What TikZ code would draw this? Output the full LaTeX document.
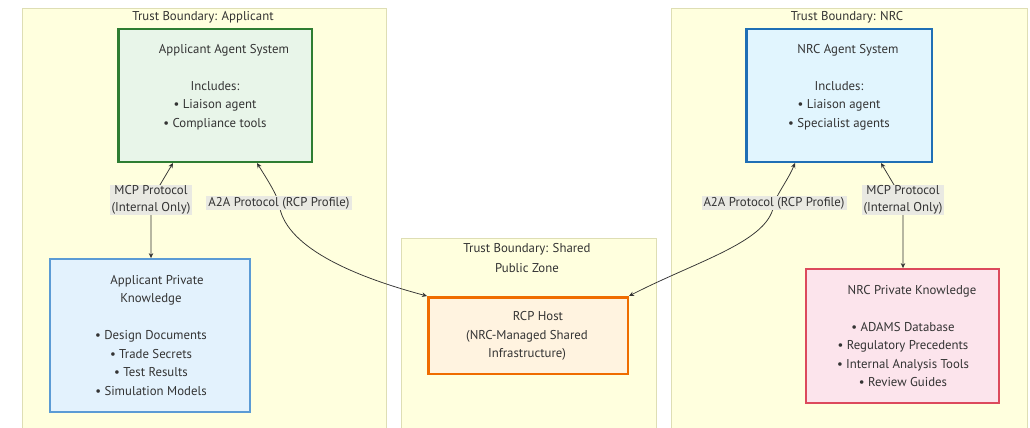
\documentclass[tikz,border=0pt]{standalone}
\usepackage{fontspec}
\setmainfont{PT Sans}
\usetikzlibrary{arrows.meta,calc,backgrounds}
\definecolor{clfill}{HTML}{FFFFDE}
\definecolor{clborder}{HTML}{DEDEB4}
\definecolor{txtcol}{HTML}{333333}
\definecolor{linecol}{HTML}{333333}
\definecolor{lblfill}{HTML}{E9E9E2}
\definecolor{agfill}{HTML}{E8F5E9}
\definecolor{agdraw}{HTML}{2E7D32}
\definecolor{apfill}{HTML}{E3F2FD}
\definecolor{apdraw}{HTML}{5B9BD5}
\definecolor{rcpfill}{HTML}{FFF3E0}
\definecolor{rcpdraw}{HTML}{EF6C00}
\definecolor{nafill}{HTML}{E1F5FE}
\definecolor{nadraw}{HTML}{1F6FB5}
\definecolor{npfill}{HTML}{FCE4EC}
\definecolor{npdraw}{HTML}{DC4A5C}
\begin{document}
\begin{tikzpicture}[x=1pt,y=-1pt,
  cluster/.style={draw=clborder, fill=clfill, line width=1pt, rectangle, inner sep=0pt, anchor=north west},
  boxnode/.style={rectangle, inner sep=0pt},
  txt/.style={font=\fontsize{12.8}{18.5}\selectfont, text=txtcol, align=center, inner sep=0pt},
  lbl/.style={fill=lblfill, font=\fontsize{12.8}{17}\selectfont, text=txtcol, align=center, inner xsep=2pt, inner ysep=1pt},
  conn/.style={draw=linecol, line width=0.75pt, {Stealth[length=5pt,width=4.5pt]}-{Stealth[length=5pt,width=4.5pt]}}
]
\useasboundingbox (0,0) rectangle (1030,428);

\begin{pgfonlayer}{background}
\fill[white] (0,0) rectangle (1030,428);
\begin{scope}
\clip (0,0) rectangle (1030,428);
\node[cluster, minimum width=364pt, minimum height=432pt] (appcl) at (22,8) {};
\node[cluster, minimum width=255pt, minimum height=202pt] (shcl) at (401,238) {};
\node[cluster, minimum width=356pt, minimum height=432pt] (nrccl) at (671,8) {};
\end{scope}
\end{pgfonlayer}

% cluster titles
\node[txt] (appcltitle) at (203,17) {Trust Boundary: Applicant};
\node[txt, font=\fontsize{12.8}{20}\selectfont] (shcltitle) at (527,258) {Trust Boundary: Shared\\Public Zone};
\node[txt] (nrccltitle) at (847,17) {Trust Boundary: NRC};

% boxes
\node[boxnode, draw=agdraw, fill=agfill, line width=2.5pt, minimum width=193.5pt, minimum height=132.5pt] (appagent) at (215,95.5) {};
\node[txt] (appagenttext) at (215,87) {\hspace*{18pt}Applicant Agent System\\[18.5pt]Includes:\\• Liaison agent\\• Compliance tools};

\node[boxnode, draw=apdraw, fill=apfill, line width=1.8pt, minimum width=200pt, minimum height=153pt] (apppriv) at (150,335.5) {};
\node[txt] (appprivtext) at (151,335.5) {\hspace*{12pt}Applicant Private\\Knowledge\\[18.5pt]• Design Documents\\• Trade Secrets\\• Test Results\\• Simulation Models};

\node[boxnode, draw=rcpdraw, fill=rcpfill, line width=2.5pt, minimum width=199.5pt, minimum height=76.5pt] (rcp) at (528,335.5) {};
\node[txt] (rcptext) at (527,336) {\hspace*{22pt}RCP Host\\(NRC-Managed Shared\\Infrastructure)};

\node[boxnode, draw=nadraw, fill=nafill, line width=2.5pt, minimum width=185.5pt, minimum height=132.5pt] (nrcagent) at (839,95.5) {};
\node[txt] (nrcagenttext) at (839,87) {\hspace*{18pt}NRC Agent System\\[18.5pt]Includes:\\• Liaison agent\\• Specialist agents};

\node[boxnode, draw=npdraw, fill=npfill, line width=1.8pt, minimum width=193pt, minimum height=134pt] (nrcpriv) at (902.5,336) {};
\node[txt] (nrcprivtext) at (903,336) {\hspace*{18pt}NRC Private Knowledge\\[18.5pt]• ADAMS Database\\• Regulatory Precedents\\• Internal Analysis Tools\\• Review Guides};

% edge labels
\node[lbl] (appmcp) at (151,200) {MCP Protocol\\(Internal Only)};
\node[lbl] (appa2a) at (279,203) {A2A Protocol (RCP Profile)};
\node[lbl] (nrca2a) at (774,203) {A2A Protocol (RCP Profile)};
\node[lbl] (nrcmcp) at (903,200) {MCP Protocol\\(Internal Only)};

% connectors
\begin{pgfonlayer}{background}
\coordinate (c1) at ($(appagent.south)+(-42,0)$);
\coordinate (c2) at ($(appagent.south)+(42,0)$);
\coordinate (c3) at ($(nrcagent.south)+(-44,0)$);
\coordinate (c4) at ($(nrcagent.south)+(42,0)$);
\draw[conn] (c1) -- (appmcp.center) -- (appmcp.center |- apppriv.north);
\draw[conn] (c2) .. controls ($(c2)+(8,13)$) and ($(appa2a.center)+(-4,-12)$) .. (appa2a.center)
  .. controls ($(appa2a.center)+(4,43)$) and ($(rcp.north west)+(-75,-20)$) .. (rcp.north west);
\draw[conn] (c3) .. controls ($(c3)+(-6,15)$) and ($(nrca2a.center)+(5,-12)$) .. (nrca2a.center)
  .. controls ($(nrca2a.center)+(-3,38)$) and ($(rcp.north east)+(70,-36)$) .. (rcp.north east);
\draw[conn] (c4) -- (nrcmcp.center) -- (nrcmcp.center |- nrcpriv.north);
\end{pgfonlayer}
\end{tikzpicture}
\end{document}
